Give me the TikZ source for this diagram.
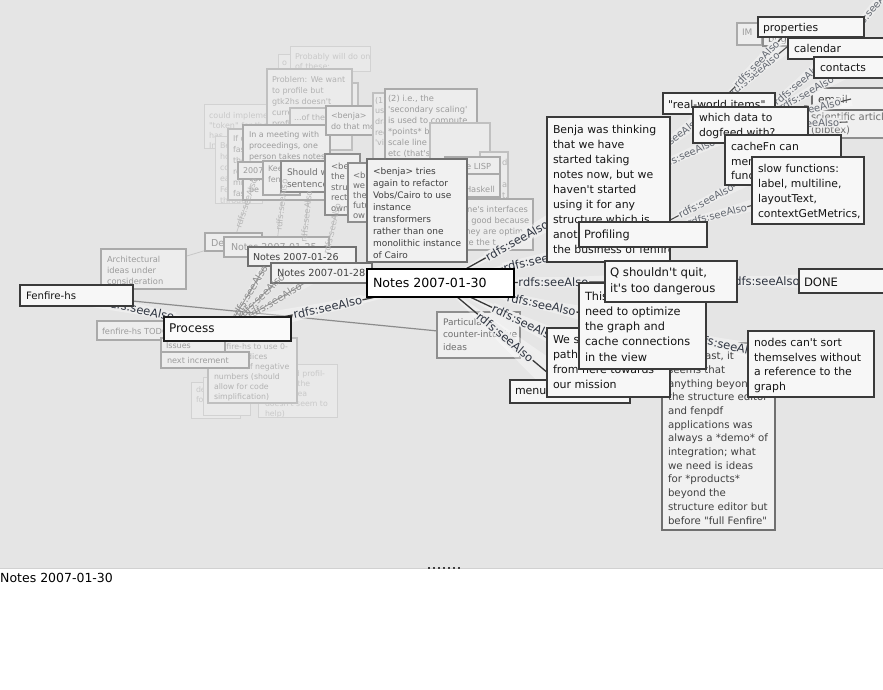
\documentclass[tikz,border=0pt]{standalone}
\usepackage{fontspec}
\setmainfont{DejaVu Sans}[Ligatures=TeXOff]
\usetikzlibrary{calc}
\pgfdeclarelayer{bg}
\pgfdeclarelayer{fconn}
\pgfdeclarelayer{faded}
\pgfdeclarelayer{conn}
\pgfsetlayers{bg,fconn,faded,conn,main}
\definecolor{cv}{HTML}{E5E5E5}
\definecolor{tFfill}{HTML}{F7F7F7}\definecolor{tFdraw}{HTML}{3A3A3A}\definecolor{tFtext}{HTML}{151515}
\definecolor{tMfill}{HTML}{F1F1F1}\definecolor{tMdraw}{HTML}{707070}\definecolor{tMtext}{HTML}{404040}
\definecolor{tLfill}{HTML}{EFEFEF}\definecolor{tLdraw}{HTML}{8E8E8E}\definecolor{tLtext}{HTML}{6E6E6E}
\definecolor{tCfill}{HTML}{EDEDED}\definecolor{tCdraw}{HTML}{AAAAAA}\definecolor{tCtext}{HTML}{9C9C9C}
\definecolor{tDfill}{HTML}{EBEBEB}\definecolor{tDdraw}{HTML}{C0C0C0}\definecolor{tDtext}{HTML}{B3B3B3}
\definecolor{tEfill}{HTML}{E9E9E9}\definecolor{tEdraw}{HTML}{D2D2D2}\definecolor{tEtext}{HTML}{C9C9C9}
\definecolor{lblC}{HTML}{2E3440}\definecolor{lblBG}{HTML}{EDEDED}
\tikzset{
 tA/.style={fill=white, draw=black, line width=2.2pt},
 tAtxt/.style={text=black},
 tP/.style={fill=white!98!black, draw=black!88, line width=2pt},
 tPtxt/.style={text=black!92},
 tF/.style={fill=tFfill, draw=tFdraw, line width=1.6pt},
 tFtxt/.style={text=tFtext},
 tM/.style={fill=tMfill, draw=tMdraw, line width=1.4pt},
 tMtxt/.style={text=tMtext},
 tL/.style={fill=tLfill, draw=tLdraw, line width=1.3pt},
 tLtxt/.style={text=tLtext},
 tC/.style={fill=tCfill, draw=tCdraw, line width=1.2pt},
 tCtxt/.style={text=tCtext},
 tD/.style={fill=tDfill, draw=tDdraw, line width=1.1pt},
 tDtxt/.style={text=tDtext},
 tE/.style={fill=tEfill, draw=tEdraw, line width=1pt},
 tEtxt/.style={text=tEtext},
 txo/.style 2 args={xshift=#1pt, yshift=-#2pt},
 tfs/.style 2 args={font=\fontsize{#1}{#2}\selectfont},
 mwedge/.style={fill=white, fill opacity=0.35},
 mline/.style={draw=black!78, line width=1.3pt},
 mlbl/.style={font=\fontsize{11.5}{12}\selectfont, text=lblC, fill=lblBG, inner sep=0.7pt},
 swedge/.style={fill=white, fill opacity=0.3},
 sline/.style={draw=black!70, line width=1.1pt},
 slbl/.style={font=\fontsize{10}{11}\selectfont, text=lblC!75, fill=lblBG, inner sep=0.5pt},
 gwedge/.style={fill=white, fill opacity=0.25},
 gline/.style={draw=black!38, line width=1pt},
 glbl/.style={font=\fontsize{10}{11}\selectfont, text=black!45, inner sep=0.5pt},
 fwedge/.style={fill=white, fill opacity=0.15},
 fline/.style={draw=black!22, line width=0.8pt},
 flbl/.style={font=\fontsize{8.5}{9}\selectfont, text=black!28, inner sep=0.5pt},
 pline/.style={draw=black!45, line width=1.2pt},
}
\newcommand\nb[8]{%
 \node[#2, anchor=north west, inner sep=0pt, outer sep=0pt,
   minimum width={(#5-#3)*1pt}, minimum height={(#6-#4)*1pt},
   path picture={\node[draw=none, fill=none, anchor=north west, inner sep=0pt,
       minimum width=0pt, minimum height=0pt, align=left, #2txt, #7]
     at (path picture bounding box.north west) {#8};}] (#1) at (#3,#4) {};}
\newcommand\lk[6]{%
 \begin{pgfonlayer}{#6}
  \fill[#1wedge] (#2.center) -- ($(#3.center)!#5pt!90:(#2.center)$) -- ($(#3.center)!#5pt!-90:(#2.center)$) -- cycle;
  \draw[#1line] (#2.center) -- (#3.center);
 \end{pgfonlayer}
 \begin{pgfonlayer}{conn}
  \path (#2.center) -- node[#1lbl, pos=#4, sloped] {rdfs:seeAlso} (#3.center);
 \end{pgfonlayer}}
\begin{document}
\begin{tikzpicture}[x=1pt,y=-1pt]
\useasboundingbox (0,0) rectangle (883,690);
\begin{pgfonlayer}{bg}
 \fill[cv] (0,0) rectangle (883,568);
 \fill[white] (0,569) rectangle (883,690);
 \draw[draw=black!18, line width=1pt] (0,568.5) -- (883,568.5);
\end{pgfonlayer}

\begin{pgfonlayer}{faded}
% top-left cluster
\nb{could}{tE}{204}{105}{283}{148}{txo={5}{7.8},tfs={8}{10}}{could implement\\"token" for the\\has\\In}
\nb{osm}{tE}{278}{55}{292}{72}{txo={4}{6},tfs={8}{10}}{o}
\nb{prob}{tE}{290}{47}{370}{72}{txo={5}{6.8},tfs={8}{10}}{Probably will do one\\of these:}
\nb{behind}{tD}{300}{83}{358}{128}{txo={4}{5}}{}
\nb{problem}{tD}{267}{69}{352}{150}{txo={5}{7.8},tfs={8}{11}}{Problem: We want\\to profile but\\gtk2hs doesn't\\currently support\\profiling}
\nb{bebox}{tE}{215}{137}{262}{203}{txo={5}{5.8},tfs={8}{11}}{Benja\\how\\could\\each\\Fenfire\\through}
\nb{ifd}{tD}{228}{129}{290}{200}{txo={5}{6.8},tfs={8}{11}}{If data is\\fast enough\\then\\rendering\\might be\\fast}
\nb{ofthe}{tD}{290}{108}{330}{126}{txo={4}{6.8},tfs={8}{11}}{...of the}
\nb{meeting}{tC}{243}{125}{330}{200}{txo={6}{6.8},tfs={8}{11}}{In a meeting with\\proceedings, one\\person takes notes\\and the others\\can see them; it\\be a nice}
\nb{bdo}{tC}{326}{106}{380}{135}{txo={5}{6.8},tfs={8}{11}}{\textless benja\textgreater\\do that more}
\nb{one}{tD}{373}{93}{400}{160}{txo={2}{4},tfs={8}{10.7}}{(1)\\using\\drawing\\rect\\'vi}
\nb{two}{tC}{385}{89}{477}{215}{txo={3}{5.7},tfs={8.3}{11}}{(2) i.e., the\\'secondary scaling'\\is used to compute\\*points* but not to\\scale line widths\\etc (that's for the\\first)}
\nb{rbox}{tD}{430}{123}{490}{200}{txo={0}{0}}{}
\nb{dbox}{tD}{480}{152}{508}{215}{txo={22}{6.7},tfs={8.3}{11}}{d\\~\\are\\t,}
\nb{lisp}{tC}{445}{157}{500}{174}{txo={12}{5.7},tfs={8.3}{11}}{like LISP}
\nb{haskell}{tC}{445}{174}{500}{197}{txo={20}{12},tfs={8.3}{11}}{Haskell}
\nb{ifaces}{tC}{440}{199}{533}{250}{txo={22}{6.7},tfs={8.3}{11}}{one's interfaces\\is good because\\they are optim-\\ize the t}
\nb{y2007}{tC}{238}{162}{275}{179}{txo={5}{5.8},tfs={8}{11}}{2007-01-26}
\nb{keep}{tC}{263}{161}{300}{195}{txo={5}{4.8},tfs={8}{11}}{Keep\\fenfire}
\nb{should}{tL}{281}{161}{340}{192}{txo={6}{7.4},tfs={9}{12}}{Should we\\sentence}
\nb{sbe}{tL}{325}{154}{360}{215}{txo={6}{8.6},tfs={8.5}{10.5}}{\textless benja\textgreater\\the\\structure\\rect\\own\\*se}
\nb{sbwe}{tL}{348}{163}{380}{222}{txo={5}{8.6},tfs={8.5}{10}}{\textless benja\textgreater\\we\\the\\future\\ow\\*s}
\nb{tries}{tM}{367}{159}{467}{262}{txo={6}{8.4},tfs={9}{12}}{\textless benja\textgreater{} tries\\again to refactor\\Vobs/Cairo to use\\instance\\transformers\\rather than one\\monolithic instance\\of Cairo}
% left cluster
\nb{arch}{tC}{101}{249}{186}{289}{txo={6}{6.7},tfs={8.3}{11}}{Architectural\\ideas under\\consideration}
\nb{dec}{tC}{205}{233}{262}{251}{txo={6}{6},tfs={9.5}{11}}{Decisions}
\nb{n25}{tC}{224}{237}{329}{257}{txo={7}{6},tfs={9.5}{11}}{Notes 2007-01-25}
\nb{n26}{tM}{248}{247}{356}{266}{txo={5}{6.2},tfs={9.5}{11}}{Notes 2007-01-26}
\nb{n28}{tM}{271}{263}{372}{283}{txo={6}{6},tfs={9.8}{11}}{Notes 2007-01-28}
\nb{todo}{tC}{97}{321}{170}{340}{txo={5}{6.7},tfs={8.3}{11}}{fenfire-hs TODO}
\nb{ole}{tE}{258}{364}{337}{417}{txo={7}{7},tfs={7.8}{9.8}}{(we tried profil-\\ing, but the\\whole idea\\doesn't seem to\\help)}
\nb{defo}{tE}{191}{382}{240}{418}{txo={5}{5},tfs={7.8}{10}}{delete\\for}
\nb{ap}{tE}{203}{377}{250}{415}{txo={4}{5},tfs={7.8}{10}}{a\\P}
\nb{hs}{tD}{208}{338}{297}{403}{txo={6}{5.9},tfs={7.8}{10}}{fenfire-hs to use 0-\\based indices\\instead of negative\\numbers (should\\allow for code\\simplification)}
\nb{issue}{tC}{161}{338}{225}{354}{txo={5}{5},tfs={8}{10}}{Issues}
\nb{next}{tC}{161}{352}{249}{368}{txo={6}{5.8},tfs={8.1}{10}}{next increment}
\nb{part}{tL}{437}{312}{520}{358}{txo={6}{6.4},tfs={9}{12.5}}{Particular\\counter-intuitive\\ideas}
\nb{atlast}{tM}{662}{343}{775}{530}{txo={6}{8.9},tfs={10.2}{13.7}}{But at last, it\\seems that\\anything beyond\\the structure editor\\and fenpdf\\applications was\\always a *demo* of\\integration; what\\we need is ideas\\for *products*\\beyond the\\structure editor but\\before "full Fenfire"}
% top-right faded
\nb{im}{tC}{737}{23}{762}{45}{txo={5}{6.4},tfs={9}{11}}{IM}
\nb{bug}{tL}{763}{30}{800}{46}{txo={5}{5.4},tfs={10}{12}}{bugs}
\nb{sci}{tL}{805}{106}{890}{138}{txo={6}{7},tfs={10}{13}}{scientific article\\(bibtex)}
\nb{email}{tM}{812}{88}{890}{110}{txo={6}{7.7},tfs={10.8}{13}}{email}
\end{pgfonlayer}

% foreground nodes
\nb{props}{tF}{758}{17}{864}{37}{txo={5}{6},tfs={10.8}{13}}{properties}
\nb{cal}{tF}{788}{38}{890}{59}{txo={6}{6.7},tfs={10.8}{13}}{calendar}
\nb{contacts}{tF}{814}{57}{890}{78}{txo={6}{6.7},tfs={10.8}{13}}{contacts}
\nb{real}{tF}{663}{93}{775}{114}{txo={5}{7.2},tfs={10.8}{13}}{"real-world items"}
\nb{which}{tF}{693}{107}{808}{143}{txo={6}{6.7},tfs={10.8}{14.5}}{which data to\\dogfeed with?}
\nb{cache}{tF}{725}{135}{841}{185}{txo={6}{7.7},tfs={10.8}{14.5}}{cacheFn can\\memoize\\functions}
\nb{slow}{tF}{752}{157}{864}{224}{txo={6}{7.7},tfs={10.8}{14.7}}{slow functions:\\label, multiline,\\layoutText,\\contextGetMetrics,}
\nb{benja}{tF}{547}{117}{670}{262}{txo={6}{8},tfs={10.9}{15}}{Benja was thinking\\that we have\\started taking\\notes now, but we\\haven't started\\using it for any\\structure which is\\another way to see\\the business of fenfire}
\nb{prof}{tF}{579}{222}{707}{247}{txo={5}{7.5},tfs={11.3}{14}}{Profiling}
\nb{menu}{tF}{510}{380}{630}{403}{txo={5}{8.6},tfs={11}{14}}{menu}
\nb{wes}{tF}{547}{328}{670}{397}{txo={6}{7.6},tfs={11}{15}}{We should find a\\path to walk\\from here towards\\our mission}
\nb{this}{tF}{579}{283}{706}{369}{txo={6}{8.5},tfs={11.3}{15.3}}{This means we\\need to optimize\\the graph and\\cache connections\\in the view}
\nb{q}{tF}{605}{261}{737}{302}{txo={5}{7},tfs={11.7}{16}}{Q shouldn't quit,\\it's too dangerous}
\nb{done}{tF}{799}{269}{890}{293}{txo={5}{8.8},tfs={11.6}{14}}{DONE}
\nb{nodes}{tF}{748}{331}{874}{397}{txo={6}{7.6},tfs={10.9}{14.5}}{nodes can't sort\\themselves without\\a reference to the\\graph}
\nb{fenfire}{tF}{20}{285}{133}{306}{txo={6}{7},tfs={10.2}{12}}{Fenfire-hs}
\nb{process}{tP}{164}{317}{291}{341}{txo={5}{7},tfs={12}{14}}{Process}
\nb{n30}{tA}{367}{269}{514}{297}{txo={6}{9},tfs={12.6}{15}}{Notes 2007-01-30}
\coordinate (off1) at (905,-30);

% connectors
\begin{pgfonlayer}{fconn}
 \draw[pline] (fenfire.center) -- (part.center);
 \draw[fline] (dec.center) -- (arch.center);
 \draw[fline] (process.center) -- (todo.center);
 \draw[fline] (process.center) -- (next.center);
\end{pgfonlayer}
\lk{g}{process}{n25}{0.45}{6}{fconn}
\lk{g}{process}{n26}{0.45}{6}{fconn}
\lk{g}{process}{n28}{0.5}{6}{fconn}
\lk{f}{n25}{meeting}{0.5}{4}{fconn}
\lk{f}{n26}{should}{0.5}{4}{fconn}
\lk{f}{n28}{sbe}{0.5}{4}{fconn}
\lk{f}{dec}{ifd}{0.5}{4}{fconn}
\lk{m}{n30}{benja}{0.455}{12}{conn}
\lk{m}{n30}{prof}{0.48}{10}{conn}
\lk{m}{n30}{q}{0.49}{9}{conn}
\lk{m}{n30}{this}{0.5}{10}{conn}
\lk{m}{n30}{wes}{0.5}{12}{conn}
\lk{m}{n30}{menu}{0.5}{16}{conn}
\lk{m}{n30}{process}{0.53}{10}{conn}
\lk{m}{process}{fenfire}{0.58}{9}{conn}
\lk{m}{q}{done}{0.54}{9}{conn}
\lk{m}{this}{nodes}{0.5}{12}{conn}
\lk{s}{benja}{real}{0.6}{8}{conn}
\lk{s}{benja}{which}{0.55}{8}{conn}
\lk{s}{prof}{cache}{0.45}{9}{conn}
\lk{s}{prof}{slow}{0.45}{9}{conn}
\lk{s}{real}{props}{0.39}{8}{conn}
\lk{s}{real}{bug}{0.6}{6}{conn}
\lk{s}{which}{cal}{0.54}{8}{conn}
\lk{s}{which}{contacts}{0.55}{8}{conn}
\lk{s}{which}{email}{0.6}{7}{conn}
\lk{s}{which}{sci}{0.6}{7}{conn}
\lk{s}{cal}{off1}{0.5}{6}{conn}

% status panel
\node[anchor=west, inner sep=0pt, font=\fontsize{12.5}{14}\selectfont] (status) at (0,577.5) {Notes 2007-01-30};
\foreach \i in {0,...,6} \fill[black!75] (428+5*\i,566.5) rectangle ++(1.5,2);
\end{tikzpicture}
\end{document}
